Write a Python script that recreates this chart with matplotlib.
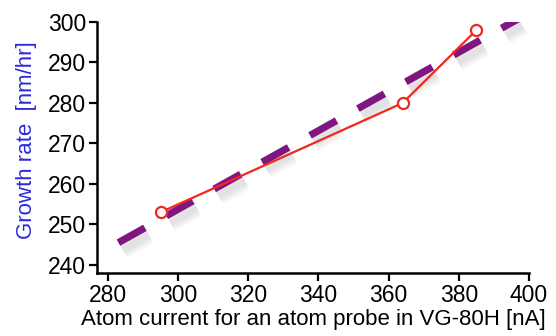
import matplotlib
matplotlib.use("Agg")
import matplotlib.pyplot as plt
import matplotlib.patheffects as pe

# Measured growth rate vs. atom current
current = [295, 364, 385]
growth = [253, 280, 298]

# Straight-line fit drawn as a thick dashed guide
fit_x = [283, 397]
fit_y = [245.5, 300.8]

xticks = [280, 300, 320, 340, 360, 380, 400]
yticks = [240, 250, 260, 270, 280, 290, 300]

plt.rcParams["font.family"] = ["Liberation Sans", "DejaVu Sans"]

fig = plt.figure(figsize=(5.56, 3.36), dpi=100)
ax = fig.add_axes([0.1745, 0.1875, 0.777, 0.747])

# soft drop shadow under the fit line, stacked to fake a blur
shadow = [
    pe.SimpleLineShadow(offset=(3, -5), shadow_color="0.55",
                        alpha=0.045, linewidth=w)
    for w in (14, 12, 10, 8, 6, 4)
]
ax.plot(fit_x, fit_y, color="#80167f", lw=5.2, dashes=(4.2, 3.4),
        solid_capstyle="butt", dash_capstyle="butt",
        path_effects=shadow + [pe.Normal()], zorder=2)

ax.plot(current, growth, color="#f0281e", lw=1.6, marker="o", ms=8,
        mfc="white", mec="#f0281e", mew=1.6, zorder=3)

ax.set_xlim(276.9, 400)
ax.set_ylim(238, 300)
ax.set_xticks(xticks)
ax.set_yticks(yticks)

for side in ("top", "right"):
    ax.spines[side].set_visible(False)
for side in ("left", "bottom"):
    ax.spines[side].set_linewidth(1.8)

ax.tick_params(direction="out", length=6, width=1.6, labelsize=16.5, pad=2)

ax.set_xlabel("Atom current for an atom probe in VG-80H [nA]", fontsize=16,
              labelpad=1)
ax.set_ylabel("Growth rate  [nm/hr]", fontsize=16, color="#2b2bdc")
ax.yaxis.set_label_coords(-0.14, 0.53)

fig.savefig("out.png", dpi=100)
